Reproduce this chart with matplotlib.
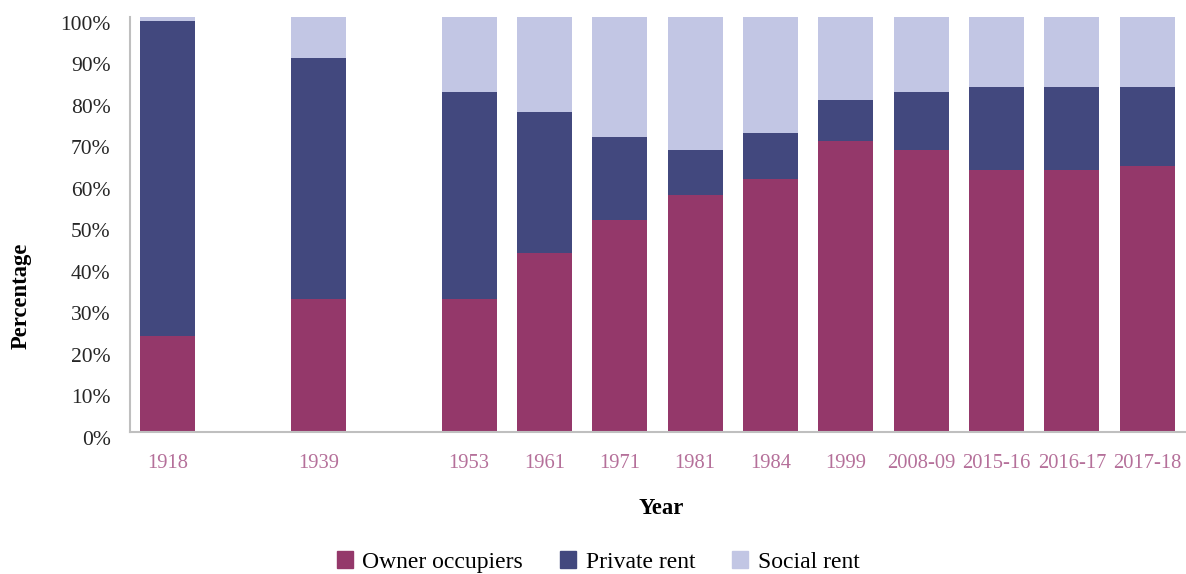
import numpy as np
import matplotlib
matplotlib.use("Agg")
import matplotlib.pyplot as plt
import matplotlib.transforms as mtransforms
from matplotlib.patches import Patch

categories = ["1918", "", "1939", "", "1953", "1961", "1971", "1981", "1984",
              "1999", "2008-09", "2015-16", "2016-17", "2017-18"]
owner = [23, np.nan, 32, np.nan, 32, 43, 51, 57, 61, 70, 68, 63, 63, 64]
private = [76, np.nan, 58, np.nan, 50, 34, 20, 11, 11, 10, 14, 20, 20, 19]
social = [1, np.nan, 10, np.nan, 18, 23, 29, 32, 28, 20, 18, 17, 17, 17]
series_names = ["Owner occupiers", "Private rent", "Social rent"]
y_ticks = [0, 10, 20, 30, 40, 50, 60, 70, 80, 90, 100]

colors = ["#94386A", "#42487E", "#C2C6E4"]

plt.rcParams['font.family'] = ['Liberation Serif', 'DejaVu Serif']

fig = plt.figure(figsize=(11.86, 5.74), dpi=100)
ax = fig.add_axes([130/1186, 1 - 431.7/574, 1055/1186, (431.7-17)/574])

x = np.arange(len(categories))
o = np.array(owner, dtype=float)
p = np.array(private, dtype=float)
s = np.array(social, dtype=float)
w = 0.73
ax.bar(x, o, w, color=colors[0], label=series_names[0])
ax.bar(x, p, w, bottom=o, color=colors[1], label=series_names[1])
ax.bar(x, s, w, bottom=o + p, color=colors[2], label=series_names[2])

ax.set_xlim(-0.5, len(categories) - 0.5)
ax.set_ylim(0, 100)
ax.set_yticks(y_ticks)
ax.set_yticklabels([f"{v}%" for v in y_ticks], fontsize=15.5, color="#262626")
ax.set_xticks(x)
ax.set_xticklabels(categories, fontsize=14.8, color="#B5709A")
ax.tick_params(axis='both', length=0)
ax.tick_params(axis='x', pad=16)
ax.tick_params(axis='y', pad=14)

offset = mtransforms.ScaledTranslation(0, -6/100, fig.dpi_scale_trans)
for lbl in ax.get_yticklabels():
    lbl.set_transform(lbl.get_transform() + offset)

for side in ['top', 'right']:
    ax.spines[side].set_visible(False)
for side in ['left', 'bottom']:
    ax.spines[side].set_color('#BFBFBF')
    ax.spines[side].set_linewidth(1.5)

fig.text(21/1186, 1 - 296/574, "Percentage", fontsize=16.3, fontweight='bold',
         rotation=90, ha='center', va='center')
fig.text(661/1186, 1 - 508/574, "Year", fontsize=16.3, fontweight='bold', ha='center', va='center')

handles = [Patch(color=c) for c in colors]
fig.legend(handles, series_names, loc='center', bbox_to_anchor=(598/1186, 1 - 562/574),
           ncol=3, frameon=False, fontsize=17, handlelength=0.68, handleheight=0.68,
           columnspacing=1.57, handletextpad=0.4)

fig.savefig("out.png", dpi=100)
